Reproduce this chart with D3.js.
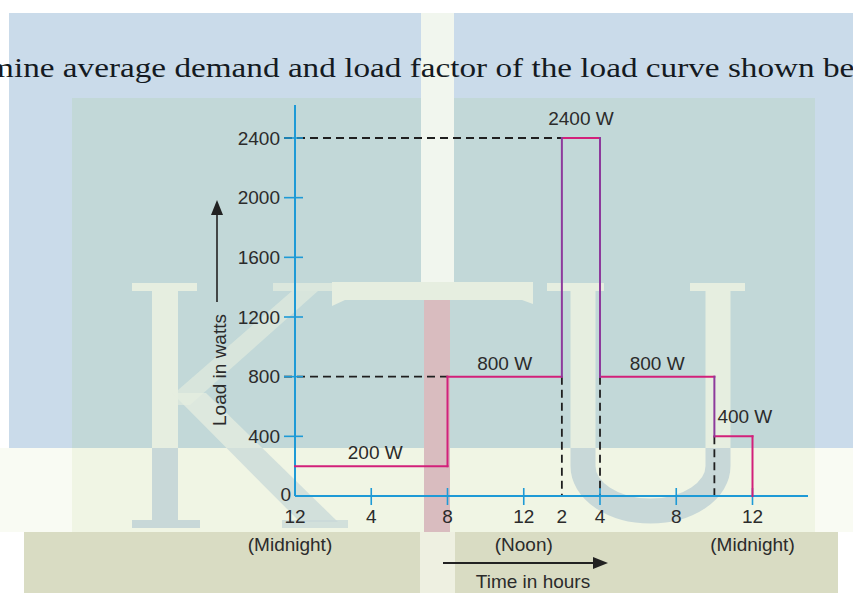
<!DOCTYPE html>
<html><head><meta charset="utf-8">
<script src="https://cdn.jsdelivr.net/npm/d3@7"></script>
<style>body{margin:0;background:#fff;overflow:hidden} svg{display:block}</style>
</head><body><svg id="c" width="853" height="593"></svg>
<script>
// ---- data ----
const hourEdges = [0, 8, 14, 16, 22, 24];
const loadValues = [200, 800, 2400, 800, 400];
const loadLabels = ["200 W", "800 W", "2400 W", "800 W", "400 W"];
const yTickValues = [0, 400, 800, 1200, 1600, 2000, 2400];
const xTickHours = [0, 4, 8, 12, 14, 16, 20, 24];
const xTickLabels = ["12", "4", "8", "12", "2", "4", "8", "12"];
const xMarkHours = [4, 8, 12, 16, 20, 24];
const periodHours = [0, 12, 24];
const periodLabels = ["(Midnight)", "(Noon)", "(Midnight)"];
const yTitle = "Load in watts";
const xTitle = "Time in hours";
const heading = "Determine average demand and load factor of the load curve shown below.";

const svg = d3.select("#c");
const x = d3.scaleLinear().domain([0, 24]).range([295, 752.5]);
const y = d3.scaleLinear().domain([0, 2400]).range([496, 138]);

// ---- background (scanned page with watermark) ----
const bg = svg.append("g");
function rect(g, x0, y0, w, h, f) { return g.append("rect").attr("x", x0).attr("y", y0).attr("width", w).attr("height", h).attr("fill", f); }
rect(bg, 9, 13, 844, 435, "#cadbea");
rect(bg, 72, 98, 743, 350, "#c2d8d8");
rect(bg, 0, 448, 853, 84, "#f9fbf3");
rect(bg, 72, 448, 743, 84, "#f0f5e4");
rect(bg, 24, 532, 814, 61, "#d9dcc3");
rect(bg, 421, 13, 33, 270, "#f1f6ee");
rect(bg, 420, 532, 35, 61, "#eef0e1");

const defs = svg.append("defs");
defs.append("clipPath").attr("id", "zTop").append("rect").attr("x", 72).attr("y", 98).attr("width", 743).attr("height", 350);
defs.append("clipPath").attr("id", "zMid").append("rect").attr("x", 72).attr("y", 448).attr("width", 743).attr("height", 84);

function letters(g, fill) {
  // K
  rect(g, 132, 283, 65, 8, fill);
  rect(g, 152, 291, 26, 231, fill);
  rect(g, 132, 520, 68, 8, fill);
  rect(g, 273, 283, 64, 8, fill).attr("fill-opacity", 0.7);
  g.append("polygon").attr("points", "292,291 318,291 190,405 178,405 178,390").attr("fill", fill).attr("fill-opacity", 0.6);
  g.append("polygon").attr("points", "172,393 206,393 338,522 300,522").attr("fill", fill).attr("fill-opacity", 0.75);
  rect(g, 282, 520, 66, 8, fill).attr("fill-opacity", 0.75);
  // T crossbar
  g.append("polygon").attr("points", "332,282 533,282 533,304 522,300 345,300 332,306").attr("fill", fill);
  // U
  rect(g, 547, 283, 57, 8, fill);
  rect(g, 690, 283, 55, 8, fill);
  g.append("path").attr("d", "M583,291 L583,466 A67.5,45 0 0 0 718,466 L718,291")
    .attr("fill", "none").attr("stroke", fill).attr("stroke-width", 25);
}
letters(svg.append("g").attr("clip-path", "url(#zTop)"), "#e6eee0");
letters(svg.append("g").attr("clip-path", "url(#zMid)"), "#c8d8d8");
rect(bg, 424, 300, 26, 232, "#d9bcbf");
svg.append("rect").attr("x", 424).attr("y", 300).attr("width", 26).attr("height", 232).attr("fill", "#d9bcbf");

// ---- heading ----
const serif = "Liberation Serif, Times New Roman, serif";
function measure(str) {
  const t = svg.append("text").attr("font-family", serif).attr("font-size", 27).text(str);
  const w = t.node().getComputedTextLength(); t.remove(); return w;
}
const inner = "ine average demand and load factor of the load curve shown b";
const sx = 826 / measure(inner);
const pre = measure("Determ") * sx;
svg.append("text").attr("font-family", serif).attr("font-size", 27).attr("fill", "#141a22")
  .attr("transform", `translate(${14 - pre},77) scale(${sx},1)`).text(heading);

// ---- chart ----
const ink = "#2b2b2b";
const axisBlue = "#1e9ad6";
const chart = svg.append("g").attr("font-family", "Liberation Sans, Arial, Helvetica, sans-serif").attr("font-size", 19);

// dashed guides
const dash = chart.append("g").attr("stroke", "#1f1f1f").attr("stroke-width", 1.8).attr("stroke-dasharray", "8,5");
const peakIdx = loadValues.indexOf(d3.max(loadValues));
const midIdx = loadValues.indexOf(800);
[[loadValues[peakIdx], hourEdges[peakIdx]], [loadValues[midIdx], hourEdges[midIdx]]].forEach(([v, h]) => {
  dash.append("line").attr("x1", x(0) - 11).attr("x2", x(h)).attr("y1", y(v)).attr("y2", y(v));
});
for (let i = 1; i < loadValues.length; i++) {
  const lo = Math.min(loadValues[i - 1], loadValues[i]);
  if (lo >= 400) dash.append("line").attr("x1", x(hourEdges[i])).attr("x2", x(hourEdges[i])).attr("y1", y(lo)).attr("y2", y(0));
}

// axes
chart.append("line").attr("x1", x(0)).attr("x2", x(0)).attr("y1", 105).attr("y2", y(0)).attr("stroke", axisBlue).attr("stroke-width", 2);
chart.append("line").attr("x1", x(0)).attr("x2", 808).attr("y1", y(0)).attr("y2", y(0)).attr("stroke", axisBlue).attr("stroke-width", 2);
chart.selectAll(".yt").data(yTickValues.filter(v => v > 0)).join("line")
  .attr("x1", x(0) - 11).attr("x2", x(0) + 8).attr("y1", d => y(d)).attr("y2", d => y(d))
  .attr("stroke", axisBlue).attr("stroke-width", 1.6);
chart.selectAll(".xt").data(xMarkHours).join("line")
  .attr("x1", d => x(d)).attr("x2", d => x(d)).attr("y1", y(0) - 8).attr("y2", y(0) + 9)
  .attr("stroke", axisBlue).attr("stroke-width", 1.6);

// tick labels
chart.selectAll(".yl").data(yTickValues).join("text")
  .attr("x", d => d === 0 ? x(0) - 4 : x(0) - 15).attr("y", d => y(d) + (d === 0 ? -2 : 0)).attr("dy", "0.35em")
  .attr("text-anchor", "end").attr("fill", ink).text(d => d);
chart.selectAll(".xl").data(xTickHours).join("text")
  .attr("x", d => x(d)).attr("y", 523).attr("text-anchor", "middle").attr("fill", ink)
  .text((d, i) => xTickLabels[i]);
chart.selectAll(".pl").data(periodHours).join("text")
  .attr("x", (d, i) => x(d) - (i === 0 ? 5 : 0)).attr("y", 551).attr("text-anchor", "middle").attr("fill", ink)
  .text((d, i) => periodLabels[i]);

// load curve
const pink = "#d2207a", purple = "#8d3a9c";
const curve = chart.append("g").attr("stroke-width", 2).attr("fill", "none").attr("stroke-linecap", "square");
loadValues.forEach((v, i) => {
  curve.append("line").attr("x1", x(hourEdges[i])).attr("x2", x(hourEdges[i + 1]))
    .attr("y1", y(v)).attr("y2", y(v)).attr("stroke", pink);
});
for (let i = 1; i <= loadValues.length; i++) {
  const a = loadValues[i - 1], b = i < loadValues.length ? loadValues[i] : 0;
  const h = hourEdges[i];
  const col = (h === 8 || i === loadValues.length) ? pink : purple;
  curve.append("line").attr("x1", x(h)).attr("x2", x(h)).attr("y1", y(a)).attr("y2", y(b)).attr("stroke", col);
}
// level labels
loadLabels.forEach((t, i) => {
  const h0 = hourEdges[i], h1 = hourEdges[i + 1];
  const last = i === loadLabels.length - 1;
  const narrow = h1 - h0 < 3;
  chart.append("text")
    .attr("x", last ? x(h0) + 3 : x((h0 + h1) / 2) + (i === 0 ? 4 : 0))
    .attr("y", y(loadValues[i]) - (narrow ? 13 : 7))
    .attr("text-anchor", last ? "start" : "middle").attr("fill", ink).text(t);
});

// axis titles with arrows
chart.append("line").attr("x1", 217).attr("x2", 217).attr("y1", 302).attr("y2", 212).attr("stroke", "#222").attr("stroke-width", 1.6);
chart.append("polygon").attr("points", "217,200 211,215 223,215").attr("fill", "#222");
chart.append("text").attr("transform", "translate(226,370) rotate(-90)").attr("text-anchor", "middle").attr("fill", ink).text(yTitle);
chart.append("line").attr("x1", 443).attr("x2", 596).attr("y1", 563).attr("y2", 563).attr("stroke", "#222").attr("stroke-width", 1.8);
chart.append("polygon").attr("points", "608,563 593,557 593,569").attr("fill", "#222");
chart.append("text").attr("x", 533).attr("y", 588).attr("text-anchor", "middle").attr("fill", ink).text(xTitle);
</script></body></html>
